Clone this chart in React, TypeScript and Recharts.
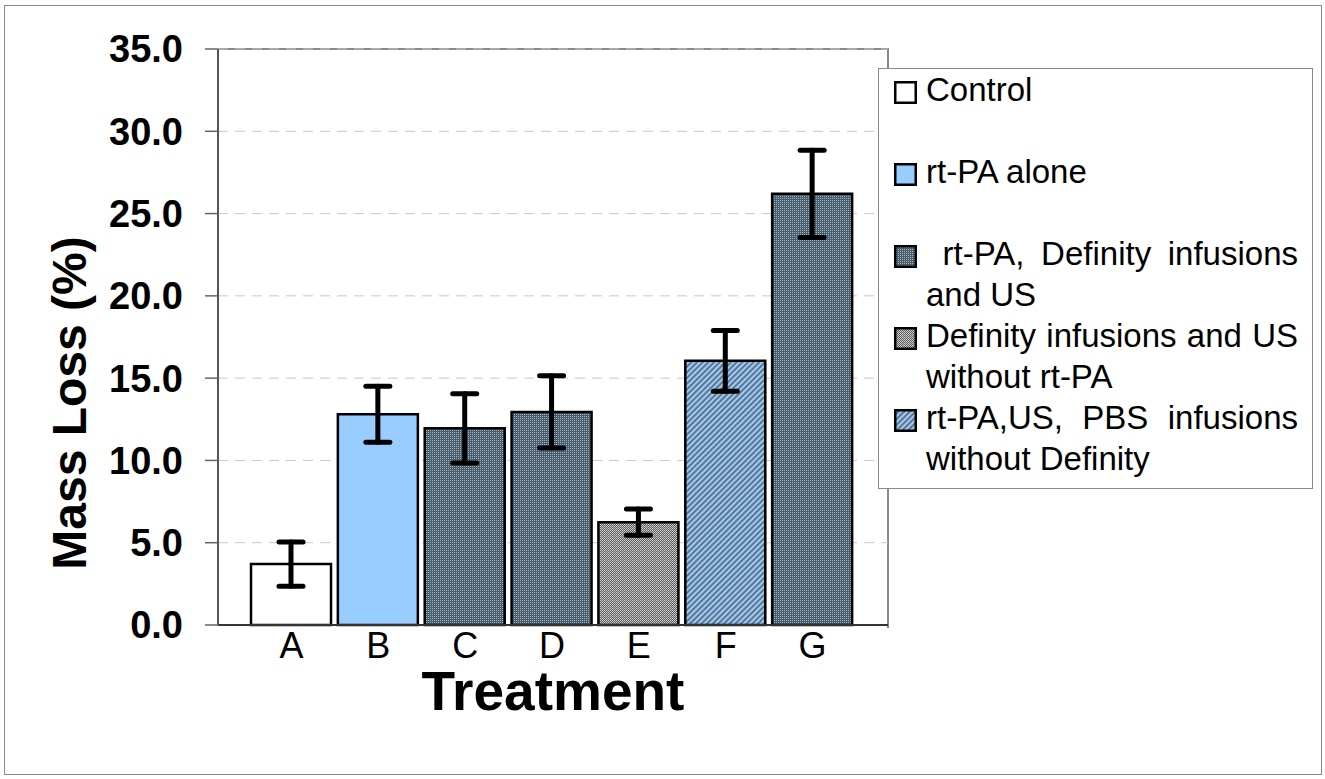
import { BarChart, Bar, XAxis, YAxis, CartesianGrid, ErrorBar, Cell, Legend, Label } from "recharts";

const treatments = ["A", "B", "C", "D", "E", "F", "G"];
const massLoss = [3.7, 12.8, 11.95, 12.95, 6.25, 16.05, 26.2];
const massLossErr = [1.35, 1.7, 2.1, 2.2, 0.8, 1.85, 2.65];
const yTicks = [0, 5, 10, 15, 20, 25, 30, 35];

const legendLabels = [
  "Control",
  "rt-PA alone",
  "\u00A0rt-PA, Definity infusions and US",
  "Definity infusions and US without rt-PA",
  "rt-PA,US, PBS infusions without Definity",
];

// fill used by each bar, and by each legend entry
const barFills = ["#ffffff", "#99ccff", "url(#dots)", "url(#dots)", "url(#grey)", "url(#hatch)", "url(#dots)"];
const legendFills = ["#ffffff", "#99ccff", "url(#dots)", "url(#grey)", "url(#hatch)"];

const data = treatments.map((t, i) => ({ name: t, value: massLoss[i], err: massLossErr[i] }));

const font = "'Liberation Sans', Arial, sans-serif";

const Patterns = () => (
  <svg width={0} height={0} style={{ position: "absolute" }}>
    <defs>
      <pattern id="dots" width={2} height={2} patternUnits="userSpaceOnUse">
        <rect width={2} height={2} fill="#4b5c68" />
        <rect width={1} height={1} fill="#96b6cf" />
      </pattern>
      <pattern id="grey" width={2} height={2} patternUnits="userSpaceOnUse">
        <rect width={2} height={2} fill="#5e5e5e" />
        <rect width={1} height={1} fill="#d4d4d4" />
        <rect x={1} y={1} width={1} height={1} fill="#bcbcbc" />
      </pattern>
      <pattern id="hatch" width={4} height={4} patternUnits="userSpaceOnUse" patternTransform="rotate(45)">
        <rect width={4} height={4} fill="#a9c8e6" />
        <rect width={2} height={4} fill="#52789f" />
      </pattern>
    </defs>
  </svg>
);

const renderLegend = () => (
  <div
    style={{
      width: 435,
      height: 421,
      boxSizing: "border-box",
      border: "1.5px solid #8a8a8a",
      background: "#fff",
      fontFamily: font,
      fontSize: 33,
      lineHeight: "41px",
      color: "#000",
    }}
  >
    {legendLabels.map((label, i) => (
      <div key={label} style={{ position: "relative", height: 82 }}>
        <svg width={23} height={23} style={{ position: "absolute", left: 15, top: 12 }}>
          <rect x={1.25} y={1.25} width={20.5} height={20.5} fill={legendFills[i]} stroke="#000" strokeWidth={2.5} />
        </svg>
        <div style={{ marginLeft: 47, width: 372, textAlign: "justify" }}>{label}</div>
      </div>
    ))}
  </div>
);

const YLabel = (props: any) => {
  const vb = props.viewBox;
  const cx = vb.x + 68;
  const cy = vb.y + vb.height / 2 + 66;
  return (
    <text x={cx} y={cy} transform={`rotate(-90, ${cx}, ${cy})`} textAnchor="middle" fontFamily={font} fontWeight="bold" fontSize={48} fill="#000">
      Mass Loss (%)
    </text>
  );
};

const XLabel = (props: any) => {
  const vb = props.viewBox;
  return (
    <text x={vb.x + vb.width / 2} y={vb.y + 85} textAnchor="middle" fontFamily={font} fontWeight="bold" fontSize={55} fill="#000">
      Treatment
    </text>
  );
};

export default function App() {
  return (
    <div style={{ position: "absolute", left: 0, top: 0, width: 1325, height: 779, background: "#fff" }}>
      <Patterns />
      <div style={{ position: "absolute", left: 4, top: 5, width: 1316, height: 768, border: "1.5px solid #8a8a8a" }} />
      {/* top and right edges of the plot frame */}
      <div
        style={{
          position: "absolute",
          left: 218,
          top: 48,
          width: 669,
          height: 578,
          borderTop: "2px solid #8a8a8a",
          borderRight: "2px solid #8a8a8a",
        }}
      />
      <BarChart width={1325} height={779} data={data} margin={{ top: 49, right: 437, left: 18, bottom: 64 }} barSize={80}>
        <CartesianGrid vertical={false} stroke="#c8c8c8" strokeDasharray="10 7" />
        <XAxis
          dataKey="name"
          height={90}
          padding={{ left: 30, right: 32 }}
          tickLine={false}
          tickSize={0}
          tickMargin={7}
          axisLine={{ stroke: "#333", strokeWidth: 2 }}
          tick={{ fontFamily: font, fontSize: 36, fill: "#000" }}
        >
          <Label content={<XLabel />} />
        </XAxis>
        <YAxis
          width={200}
          domain={[0, 35]}
          ticks={yTicks}
          tickFormatter={(v: number) => v.toFixed(1)}
          tickSize={13}
          tickMargin={22}
          axisLine={{ stroke: "#555", strokeWidth: 2 }}
          tickLine={{ stroke: "#666", strokeWidth: 1.5 }}
          tick={{ fontFamily: font, fontSize: 38, fontWeight: "bold", fill: "#000" }}
        >
          <Label content={<YLabel />} />
        </YAxis>
        <Bar dataKey="value" stroke="#000" strokeWidth={2.5} isAnimationActive={false}>
          {data.map((d, i) => (
            <Cell key={d.name} fill={barFills[i]} />
          ))}
          <ErrorBar dataKey="err" width={12} strokeWidth={5} stroke="#000" strokeLinecap="round" isAnimationActive={false} />
        </Bar>
        <Legend
          content={renderLegend}
          layout="horizontal"
          verticalAlign="middle"
          align="center"
          wrapperStyle={{ left: 878, top: 68, width: 435, height: 421 }}
        />
      </BarChart>
    </div>
  );
}
